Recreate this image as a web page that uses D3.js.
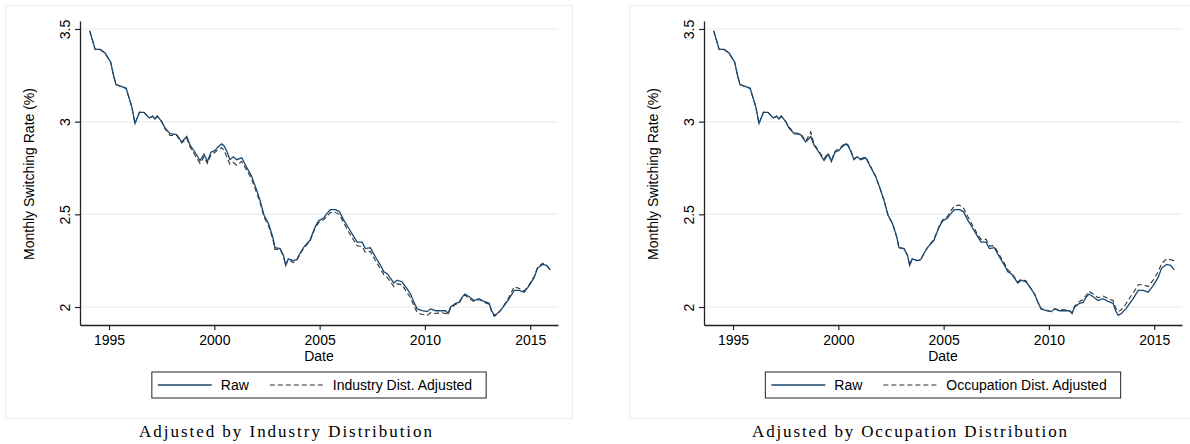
<!DOCTYPE html>
<html>
<head>
<meta charset="utf-8">
<script src="https://cdn.jsdelivr.net/npm/d3@7"></script>
<style>
  body { margin: 0; background: #fff; }
  svg { display: block; }
</style>
</head>
<body>
<div id="chart"></div>
<script>
// decimal years of the sampled points
const dates = [1994.08, 1994.34, 1994.57, 1994.81, 1995.08, 1995.21, 1995.33, 1995.81, 1996.08, 1996.23,
  1996.44, 1996.66, 1996.91, 1997.07, 1997.18, 1997.29, 1997.50, 1997.66, 1997.90, 1998.21,
  1998.45, 1998.69, 1998.84, 1999.08, 1999.32, 1999.51, 1999.67, 1999.84, 2000.03, 2000.19,
  2000.35, 2000.46, 2000.59, 2000.74, 2000.90, 2001.06, 2001.30, 2001.53, 2001.77, 2001.98,
  2002.17, 2002.36, 2002.57, 2002.77, 2002.88, 2003.12, 2003.28, 2003.39, 2003.51, 2003.75,
  2003.91, 2004.07, 2004.26, 2004.54, 2004.78, 2004.95, 2005.19, 2005.35, 2005.51, 2005.75,
  2005.94, 2006.14, 2006.38, 2006.62, 2006.78, 2007.02, 2007.17, 2007.41, 2007.65, 2007.89,
  2008.05, 2008.21, 2008.37, 2008.52, 2008.68, 2008.92, 2009.08, 2009.32, 2009.48, 2009.63,
  2009.87, 2010.11, 2010.27, 2010.51, 2010.75, 2010.98, 2011.10, 2011.22, 2011.46, 2011.62,
  2011.78, 2011.90, 2012.10, 2012.33, 2012.57, 2012.81, 2013.05, 2013.17, 2013.29, 2013.44,
  2013.65, 2013.84, 2014.00, 2014.24, 2014.48, 2014.71, 2014.95, 2015.19, 2015.35, 2015.59,
  2015.78, 2015.95];

const rawRate = [3.49, 3.39, 3.39, 3.37, 3.32, 3.25, 3.20, 3.18, 3.08, 2.99,
  3.05, 3.05, 3.02, 3.03, 3.015, 3.03, 3.00, 2.965, 2.935, 2.93,
  2.89, 2.92, 2.875, 2.835, 2.79, 2.825, 2.785, 2.835, 2.845, 2.865,
  2.88, 2.87, 2.84, 2.795, 2.81, 2.795, 2.805, 2.755, 2.705, 2.64,
  2.575, 2.495, 2.45, 2.38, 2.32, 2.315, 2.28, 2.225, 2.26, 2.25,
  2.255, 2.29, 2.325, 2.36, 2.43, 2.465, 2.48, 2.505, 2.525, 2.525,
  2.515, 2.47, 2.425, 2.38, 2.35, 2.35, 2.315, 2.32, 2.27, 2.225,
  2.19, 2.18, 2.155, 2.13, 2.145, 2.135, 2.11, 2.07, 2.025, 1.99,
  1.98, 1.975, 1.99, 1.98, 1.98, 1.98, 1.965, 2.00, 2.02, 2.025,
  2.055, 2.07, 2.055, 2.035, 2.045, 2.03, 2.02, 1.98, 1.955, 1.965,
  1.99, 2.02, 2.045, 2.09, 2.09, 2.08, 2.115, 2.16, 2.21, 2.23,
  2.225, 2.20];

const industryAdj = [3.49, 3.39, 3.39, 3.37, 3.32, 3.25, 3.20, 3.18, 3.08, 2.99,
  3.05, 3.05, 3.02, 3.03, 3.015, 3.03, 3.00, 2.96, 2.925, 2.925,
  2.885, 2.91, 2.865, 2.82, 2.775, 2.81, 2.775, 2.82, 2.835, 2.85,
  2.86, 2.845, 2.81, 2.77, 2.78, 2.765, 2.785, 2.74, 2.69, 2.625,
  2.565, 2.485, 2.44, 2.37, 2.31, 2.31, 2.275, 2.225, 2.255, 2.24,
  2.25, 2.285, 2.32, 2.355, 2.425, 2.455, 2.47, 2.49, 2.51, 2.51,
  2.50, 2.455, 2.405, 2.36, 2.33, 2.325, 2.295, 2.30, 2.25, 2.205,
  2.175, 2.16, 2.135, 2.11, 2.125, 2.12, 2.09, 2.05, 2.005, 1.97,
  1.96, 1.955, 1.97, 1.965, 1.97, 1.965, 1.96, 1.995, 2.015, 2.02,
  2.05, 2.065, 2.045, 2.03, 2.04, 2.025, 2.015, 1.975, 1.95, 1.96,
  1.99, 2.025, 2.055, 2.11, 2.10, 2.085, 2.12, 2.165, 2.215, 2.235,
  2.225, 2.20];

const occupationAdj = [3.49, 3.39, 3.39, 3.37, 3.32, 3.25, 3.20, 3.18, 3.08, 2.99,
  3.05, 3.05, 3.02, 3.03, 3.015, 3.03, 3.00, 2.97, 2.94, 2.935,
  2.895, 2.945, 2.88, 2.84, 2.80, 2.83, 2.79, 2.84, 2.855, 2.87,
  2.885, 2.875, 2.845, 2.80, 2.81, 2.80, 2.81, 2.76, 2.705, 2.64,
  2.575, 2.495, 2.45, 2.38, 2.32, 2.315, 2.28, 2.225, 2.26, 2.25,
  2.255, 2.29, 2.325, 2.365, 2.435, 2.47, 2.49, 2.52, 2.545, 2.55,
  2.535, 2.49, 2.44, 2.39, 2.365, 2.365, 2.33, 2.33, 2.28, 2.235,
  2.20, 2.185, 2.16, 2.135, 2.15, 2.14, 2.11, 2.07, 2.025, 1.99,
  1.985, 1.975, 1.99, 1.985, 1.985, 1.98, 1.97, 2.005, 2.03, 2.04,
  2.065, 2.085, 2.07, 2.05, 2.06, 2.045, 2.035, 1.995, 1.975, 1.985,
  2.015, 2.05, 2.075, 2.12, 2.12, 2.11, 2.145, 2.19, 2.235, 2.26,
  2.255, 2.25];

const xTicks = [1995, 2000, 2005, 2010, 2015];
const yTicks = [2, 2.5, 3, 3.5];
const legendLabels = ["Industry Dist. Adjusted", "Occupation Dist. Adjusted"];
const captions = ["Adjusted by Industry Distribution", "Adjusted by Occupation Distribution"];

const width = 1190;
const height = 444;
const navy = "#1a476f";
const dashGray = "#333";
const gridColor = "#eaf2f3";
const sans = "'Liberation Sans', Arial, sans-serif";

const svg = d3.select("#chart")
    .append("svg")
    .attr("width", width)
    .attr("height", height);

// x/y scales shared by both panels (plot area relative to panel origin)
const x = d3.scaleLinear().domain([1993.62, 2016.32]).range([80, 558]);
const y = d3.scaleLinear().domain([1.903, 3.543]).range([325, 21]);

function drawPanel(offsetX, adjusted, legendLabel, caption, captionWidth) {
    const g = svg.append("g").attr("transform", `translate(${offsetX},0)`);

    // outer frame
    g.append("rect")
        .attr("x", 5.5).attr("y", 5.5)
        .attr("width", 567).attr("height", 413)
        .attr("fill", "#fff")
        .attr("stroke", gridColor)
        .attr("stroke-width", 1.5);

    // gridlines
    g.selectAll(".grid")
        .data(yTicks)
        .enter()
        .append("line")
        .attr("x1", 80).attr("x2", 558)
        .attr("y1", d => y(d)).attr("y2", d => y(d))
        .attr("stroke", gridColor)
        .attr("stroke-width", 1.5);

    const line = (vals) => d3.line()
        .x((d, i) => x(dates[i]))
        .y(d => y(d))(vals);

    // adjusted (dashed) first, raw on top
    g.append("path")
        .attr("d", line(adjusted))
        .attr("fill", "none")
        .attr("stroke", dashGray)
        .attr("stroke-width", 1.1)
        .attr("stroke-dasharray", "5,3");

    g.append("path")
        .attr("d", line(rawRate))
        .attr("fill", "none")
        .attr("stroke", navy)
        .attr("stroke-width", 1.3);

    // y axis
    const yAxis = g.append("g")
        .attr("transform", "translate(80,0)")
        .call(d3.axisLeft(y).tickValues(yTicks).tickSize(5).tickSizeOuter(0)
            .tickFormat(d => d3.format("")(d)));
    yAxis.selectAll("text")
        .attr("x", null).attr("dy", null)
        .attr("text-anchor", "middle")
        .attr("transform", "translate(-10,0) rotate(-90)");

    // x axis
    const xAxis = g.append("g")
        .attr("transform", "translate(0,325)")
        .call(d3.axisBottom(x).tickValues(xTicks).tickSize(5).tickSizeOuter(0).tickPadding(5)
            .tickFormat(d3.format("d")));

    [yAxis, xAxis].forEach(a => {
        a.select(".domain").attr("stroke", "#222").attr("stroke-width", 1.3);
        a.selectAll(".tick line").attr("stroke", "#222").attr("stroke-width", 1.2);
        a.selectAll("text").attr("font-family", sans).attr("font-size", 14).attr("fill", "#000");
    });

    // axis titles
    g.append("text")
        .attr("transform", "translate(34,174) rotate(-90)")
        .attr("text-anchor", "middle")
        .attr("font-family", sans).attr("font-size", 14)
        .text("Monthly Switching Rate (%)");

    g.append("text")
        .attr("x", 319).attr("y", 361)
        .attr("text-anchor", "middle")
        .attr("font-family", sans).attr("font-size", 14)
        .text("Date");

    // legend
    const leg = g.append("g");
    const box = leg.append("rect")
        .attr("fill", "#fff")
        .attr("stroke", "#222")
        .attr("stroke-width", 1);
    const items = [
        { label: "Raw", color: navy, dash: null, w: 1.3 },
        { label: legendLabel, color: dashGray, dash: "5,3", w: 1.1 }
    ];
    let cx = 157;
    items.forEach((it, i) => {
        leg.append("line")
            .attr("x1", cx).attr("x2", cx + 54)
            .attr("y1", 385).attr("y2", 385)
            .attr("stroke", it.color)
            .attr("stroke-width", it.w)
            .attr("stroke-dasharray", it.dash);
        const t = leg.append("text")
            .attr("x", cx + 63).attr("y", 390)
            .attr("font-family", sans).attr("font-size", 14)
            .text(it.label);
        cx += 63 + t.node().getComputedTextLength() + (i === 0 ? 21 : 0);
    });
    const boxW = cx + 14 - 151;
    box.attr("x", 151).attr("y", 372).attr("width", boxW).attr("height", 26);
    leg.attr("transform", `translate(${319 - (151 + boxW / 2)},0)`);

    // caption
    g.append("text")
        .attr("x", 285.5).attr("y", 437)
        .attr("text-anchor", "middle")
        .attr("font-family", "'Liberation Serif', 'DejaVu Serif', serif")
        .attr("font-size", 17)
        .attr("textLength", captionWidth)
        .attr("lengthAdjust", "spacing")
        .text(caption);
}

drawPanel(0, industryAdj, legendLabels[0], captions[0], 293);
drawPanel(624, occupationAdj, legendLabels[1], captions[1], 315);
</script>
</body>
</html>
